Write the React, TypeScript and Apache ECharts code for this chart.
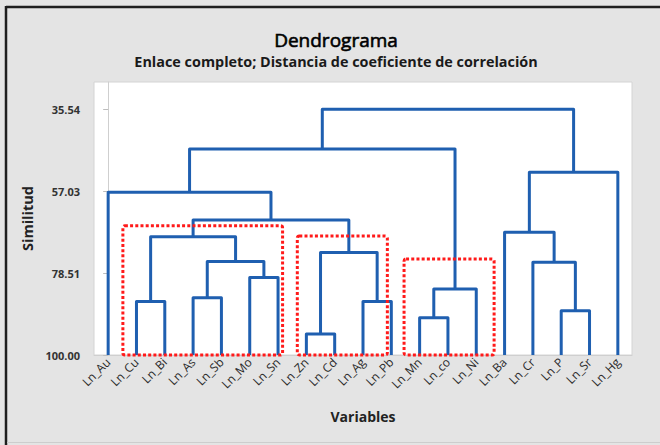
import React, { useEffect, useRef } from "react";
import * as echarts from "echarts";

// Leaves in display order (left to right)
const leafLabels = [
  "Ln_Au", "Ln_Cu", "Ln_Bi", "Ln_As", "Ln_Sb", "Ln_Mo", "Ln_Sn", "Ln_Zn", "Ln_Cd", "Ln_Ag",
  "Ln_Pb", "Ln_Mn", "Ln_co", "Ln_Ni", "Ln_Ba", "Ln_Cr", "Ln_P", "Ln_Sr", "Ln_Hg",
];

// Merge steps: child ids (0..18 leaves, 19+ previous merges) and similarity level
const mergePairs: [number, number][] = [
  [7, 8],    // 19 Zn-Cd
  [11, 12],  // 20 Mn-co
  [16, 17],  // 21 P-Sr
  [1, 2],    // 22 Cu-Bi
  [9, 10],   // 23 Ag-Pb
  [3, 4],    // 24 As-Sb
  [20, 13],  // 25 (Mn,co)-Ni
  [5, 6],    // 26 Mo-Sn
  [15, 21],  // 27 Cr-(P,Sr)
  [24, 26],  // 28
  [19, 23],  // 29
  [22, 28],  // 30
  [14, 27],  // 31 Ba-...
  [30, 29],  // 32
  [0, 32],   // 33 Au-...
  [31, 18],  // 34 ...-Hg
  [33, 25],  // 35
  [35, 34],  // 36 root
];
const mergeSimilarity = [
  94.5, 90.2, 88.4, 86.0, 86.0, 85.0, 82.7, 79.7, 75.7, 75.5,
  73.1, 69.0, 67.8, 64.6, 57.3, 52.1, 46.0, 35.54,
];

// Y axis tick labels
const similarityTicks = [35.54, 57.03, 78.51, 100.0];

// Highlighted clusters: [from leaf position, to leaf position, top similarity]
const clusterBoxes: [number, number, number][] = [
  [0.52, 6.16, 66.1],
  [6.68, 9.86, 68.8],
  [10.45, 13.63, 74.8],
];

export default function App() {
  const ref = useRef<HTMLDivElement>(null);

  useEffect(() => {
    if (!ref.current) return;
    const chart = echarts.init(ref.current, null, { renderer: "svg" });

    const n = leafLabels.length;
    const nodeX: number[] = leafLabels.map((_, i) => i);
    const nodeH: number[] = leafLabels.map(() => 100);
    const links: number[][] = [];
    mergePairs.forEach(([a, b], k) => {
      const h = mergeSimilarity[k];
      links.push([nodeX[a], nodeH[a], nodeX[b], nodeH[b], h]);
      nodeX[n + k] = (nodeX[a] + nodeX[b]) / 2;
      nodeH[n + k] = h;
    });

    const blue = "#1f5fb0";
    const font = "'Open Sans', 'Noto Sans', sans-serif";

    chart.setOption({
      animation: false,
      backgroundColor: "#e4e4e4",
      textStyle: { fontFamily: font },
      grid: {
        left: 94,
        right: 28,
        top: 82,
        bottom: 90,
        show: true,
        backgroundColor: "#ffffff",
        borderColor: "#d4d4d4",
        borderWidth: 1,
      },
      xAxis: [
        {
          type: "category",
          data: leafLabels,
          boundaryGap: true,
          name: "Variables",
          nameLocation: "middle",
          nameGap: 54,
          nameTextStyle: { fontSize: 14, fontWeight: "bold", color: "#222", fontFamily: font },
          axisLine: { lineStyle: { color: "#cfcfcf" } },
          axisTick: { alignWithLabel: true, length: 4, lineStyle: { color: "#bdbdbd" } },
          axisLabel: {
            rotate: 45,
            interval: 0,
            fontSize: 12,
            margin: 5,
            color: "#2a2a2a",
            fontFamily: font,
          },
          splitLine: { show: false },
        },
        {
          type: "value",
          min: -0.5,
          max: n - 0.5,
          show: false,
        },
      ],
      yAxis: {
        type: "value",
        inverse: true,
        min: 28.4,
        max: 100,
        name: "Similitud",
        nameLocation: "middle",
        nameGap: 48,
        nameTextStyle: { fontSize: 14.5, fontWeight: "bold", color: "#222", fontFamily: font },
        axisLine: { show: true, lineStyle: { color: "#cfcfcf" } },
        axisTick: { show: true, length: 5, customValues: similarityTicks, lineStyle: { color: "#bdbdbd" } },
        axisLabel: {
          customValues: similarityTicks,
          formatter: (v: number) => v.toFixed(2),
          fontSize: 11,
          fontWeight: "bold",
          color: "#333",
          margin: 14,
          fontFamily: font,
        },
        splitLine: { show: false },
      },
      graphic: [
        { type: "line", shape: { x1: 6, y1: 7, x2: 660, y2: 7 }, style: { stroke: "#1e1e1e", lineWidth: 2.5 } },
        { type: "line", shape: { x1: 6, y1: 6, x2: 6, y2: 445 }, style: { stroke: "#1e1e1e", lineWidth: 2.5 } },
        { type: "line", shape: { x1: 7, y1: 442.5, x2: 660, y2: 442.5 }, style: { stroke: "#cdcdcd", lineWidth: 1 } },
        {
          type: "text",
          x: 336,
          y: 40,
          style: {
            text: "Dendrograma",
            font: `19px ${font}`,
            fill: "#000",
            stroke: "#000",
            lineWidth: 0.6,
            textAlign: "center",
            textVerticalAlign: "middle",
          },
        },
        {
          type: "text",
          x: 336,
          y: 61,
          style: {
            text: "Enlace completo; Distancia de coeficiente de correlación",
            font: `bold 14.4px ${font}`,
            fill: "#1a1a1a",
            textAlign: "center",
            textVerticalAlign: "middle",
          },
        },
      ],
      series: [
        {
          type: "custom",
          xAxisIndex: 1,
          yAxisIndex: 0,
          clip: false,
          data: links,
          encode: { x: [0, 2], y: [1, 3, 4] },
          renderItem: (params: any, api: any) => {
            const xl = api.value(0), yl = api.value(1), xr = api.value(2), yr = api.value(3), h = api.value(4);
            return {
              type: "polyline",
              shape: {
                points: [api.coord([xl, yl]), api.coord([xl, h]), api.coord([xr, h]), api.coord([xr, yr])],
              },
              style: { stroke: blue, lineWidth: 3, fill: "none", lineJoin: "round", lineCap: "butt" },
            };
          },
        },
        {
          type: "custom",
          xAxisIndex: 1,
          yAxisIndex: 0,
          clip: false,
          data: clusterBoxes,
          encode: { x: [0, 1], y: [2] },
          renderItem: (params: any, api: any) => {
            const p1 = api.coord([api.value(0), api.value(2)]);
            const p2 = api.coord([api.value(1), 100]);
            return {
              type: "rect",
              shape: { x: p1[0], y: p1[1], width: p2[0] - p1[0], height: p2[1] - p1[1], r: 2 },
              style: { stroke: "#ff1a1a", lineWidth: 3, fill: "none", lineDash: [3, 2.2] },
            };
          },
        },
      ],
    });

    return () => chart.dispose();
  }, []);

  return (
    <div
      ref={ref}
      style={{ position: "fixed", left: 0, top: 0, width: 660, height: 445 }}
    />
  );
}
